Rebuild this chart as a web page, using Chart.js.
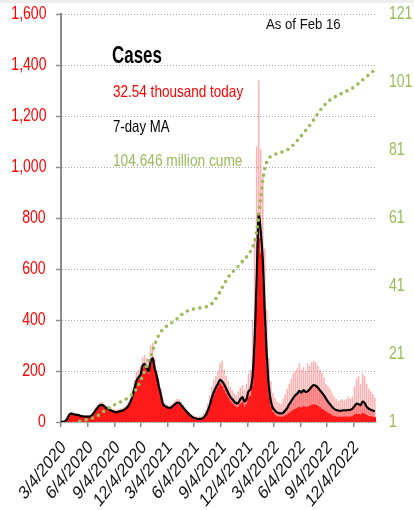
<!DOCTYPE html>
<html>
<head>
<meta charset="utf-8">
<script src="https://cdn.jsdelivr.net/npm/chart.js@4.4.1/dist/chart.umd.min.js"></script>
<style>
  html, body { margin: 0; padding: 0; background: #fff; }
  #wrap { position: relative; width: 414px; height: 510px; overflow: hidden; }
  #topbar { position: absolute; left: 0; top: 0; width: 414px; height: 3px; background: #eeeeee; }
  .t { position: absolute; white-space: nowrap; line-height: 1;
       font-family: "Liberation Sans", Arial, sans-serif; transform-origin: 0 50%; }
</style>
</head>
<body>
<div id="wrap">
  <canvas id="chart" width="414" height="510"></canvas>
  <div id="topbar"></div>
  <div id="ticks"></div>
  <div class="t" style="left:266px;top:16.3px;font-size:15.5px;color:#111;transform:scaleX(0.85)">As of Feb 16</div>
  <div class="t" style="left:112px;top:44px;font-size:23.5px;font-weight:bold;color:#000;transform:scaleX(0.72)">Cases</div>
  <div class="t" style="left:112.5px;top:82.7px;font-size:16.5px;color:#ff0000;transform:scaleX(0.82)">32.54 thousand today</div>
  <div class="t" style="left:112.5px;top:117.7px;font-size:16.5px;color:#000;transform:scaleX(0.8)">7-day MA</div>
  <div class="t" style="left:112.5px;top:151.7px;font-size:16.5px;color:#9bbb59;transform:scaleX(0.83)">104.646 million cume</div>
</div>
<script>
// weekly samples starting 3/4/2020, values in thousands of cases per day
const ma7 = [
  0.1, 0.6, 3, 12, 28, 33, 31, 29, 28, 26,
  23, 22, 21, 21, 21, 25, 35, 46, 57, 65,
  67, 63, 56, 52, 47, 43, 41, 38, 40, 43,
  44, 48, 54, 63, 78, 98, 130, 160, 175, 185,
  220, 228, 212, 200, 238, 250, 210, 180, 140, 108,
  70, 62, 58, 55, 57, 63, 70, 76, 75, 66,
  56, 47, 37, 29, 22, 17, 15, 12, 12, 13,
  17, 27, 44, 66, 95, 118, 135, 150, 165, 160,
  148, 132, 115, 100, 90, 80, 74, 75, 90, 98,
  80, 90, 120, 128, 180, 320, 560, 815, 750, 640,
  430, 260, 140, 82, 55, 45, 38, 35, 34, 36,
  45, 55, 70, 82, 95, 105, 112, 122, 115, 125,
  118, 120, 128, 138, 145, 142, 135, 125, 115, 105,
  92, 80, 70, 60, 52, 47, 45, 44, 45, 46,
  46, 47, 48, 52, 62, 72, 70, 66, 80, 75,
  60, 52, 48, 45, 42
]

// highest reported day in each week (thousands)
const dailyHigh = [
  0.2, 1, 5, 19, 34, 38, 36, 34, 33, 31,
  28, 27, 26, 26, 27, 33, 45, 58, 68, 77,
  79, 74, 66, 62, 57, 52, 50, 47, 51, 53,
  54, 60, 66, 78, 95, 128, 165, 195, 205, 220,
  255, 262, 250, 240, 300, 310, 250, 205, 165, 128,
  88, 76, 70, 66, 68, 76, 84, 90, 90, 80,
  68, 58, 46, 38, 30, 26, 22, 20, 22, 25,
  34, 48, 72, 105, 138, 165, 180, 200, 230, 240,
  205, 180, 160, 138, 125, 112, 106, 120, 135, 145,
  125, 150, 190, 205, 400, 720, 1080, 1340, 1070, 960,
  680, 440, 250, 160, 115, 95, 80, 75, 72, 90,
  110, 130, 150, 170, 190, 200, 210, 230, 205, 215,
  200, 230, 220, 235, 240, 235, 220, 205, 195, 175,
  150, 140, 130, 115, 100, 90, 82, 85, 90, 85,
  90, 100, 92, 100, 140, 170, 180, 150, 190, 180,
  150, 130, 120, 110, 95
]

// typical (lower) reported day in each week (thousands)
const dailyLow = [
  0, 0.5, 2.5, 10, 26, 31, 29, 27, 26, 24,
  21, 20, 19, 19, 19, 23, 33, 43, 54, 62,
  64, 60, 53, 49, 44, 40, 38, 35, 37, 40,
  41, 45, 51, 60, 74, 92, 124, 152, 166, 175,
  208, 216, 200, 188, 225, 238, 198, 170, 132, 102,
  66, 58, 54, 51, 53, 58, 65, 70, 70, 62,
  52, 44, 34, 26, 20, 15, 13, 10, 10, 10,
  14, 22, 38, 58, 85, 105, 122, 135, 150, 140,
  125, 110, 95, 82, 72, 64, 58, 58, 68, 75,
  58, 68, 95, 102, 140, 270, 480, 720, 660, 540,
  350, 205, 105, 60, 38, 28, 22, 20, 19, 20,
  24, 28, 34, 40, 45, 50, 53, 58, 55, 60,
  57, 59, 62, 66, 68, 66, 62, 56, 50, 45,
  40, 34, 30, 25, 22, 20, 19, 19, 19, 20,
  20, 20, 20, 22, 27, 31, 30, 28, 33, 31,
  26, 22, 21, 20, 18
]

// cumulative cases, millions
const cume = [
  0, 0, 0.005, 0.03, 0.11, 0.31, 0.54, 0.76, 0.96, 1.16,
  1.34, 1.5, 1.65, 1.8, 1.95, 2.1, 2.27, 2.52, 2.84, 3.24,
  3.7, 4.17, 4.61, 5.0, 5.36, 5.69, 5.99, 6.28, 6.55, 6.83,
  7.13, 7.44, 7.78, 8.16, 8.6, 9.14, 9.83, 10.74, 11.86, 13.09,
  14.38, 15.92, 17.52, 19.0, 20.4, 22.07, 23.82, 25.29, 26.55, 27.53,
  28.28, 28.8, 29.25, 29.65, 30.05, 30.45, 30.9, 31.4, 31.92, 32.44,
  32.9, 33.29, 33.62, 33.88, 34.08, 34.24, 34.36, 34.46, 34.55, 34.63,
  34.72, 34.84, 35.03, 35.34, 35.8, 36.47, 37.29, 38.24, 39.3, 40.45,
  41.55, 42.6, 43.5, 44.3, 45.0, 45.6, 46.2, 46.8, 47.5, 48.2,
  48.9, 49.5, 50.3, 51.2, 52.3, 54.0, 57.0, 61.5, 67.0, 72.0,
  75.5, 77.5, 78.6, 79.1, 79.4, 79.7, 79.9, 80.1, 80.3, 80.5,
  80.7, 81.0, 81.4, 81.9, 82.5, 83.1, 83.8, 84.5, 85.2, 86.0,
  86.7, 87.4, 88.2, 89.0, 89.9, 90.8, 91.7, 92.5, 93.3, 94.0,
  94.6, 95.2, 95.7, 96.1, 96.5, 96.8, 97.1, 97.4, 97.7, 98.0,
  98.3, 98.6, 98.9, 99.2, 99.6, 100.1, 100.6, 101.0, 101.6, 102.1,
  102.6, 103.1, 103.6, 104.1, 104.6
]

const tickLabels = ["3/4/2020", "6/4/2020", "9/4/2020", "12/4/2020", "3/4/2021", "6/4/2021",
  "9/4/2021", "12/4/2021", "3/4/2022", "6/4/2022", "9/4/2022", "12/4/2022"]
const caseTicks = [0, 200, 400, 600, 800, 1000, 1200, 1400, 1600]
const cumeTicks = [1, 21, 41, 61, 81, 101, 121]

// days since 3/4/2020
const dayOf = (s) => {
  const [m, d, y] = s.split("/").map(Number)
  return (Date.UTC(y, m - 1, d) - Date.UTC(2020, 2, 4)) / 864e5
}
const pts = (arr) => arr.map((v, i) => ({ x: i * 7, y: v }))

const gray = "#8c8c8c"

// tick labels as html text, placed with the chart's own scales
const htmlTicks = {
  id: "htmlTicks",
  afterDraw(chart) {
    const layer = document.getElementById("ticks")
    layer.innerHTML = ""
    const add = (txt, css) => {
      const d = document.createElement("div")
      d.className = "t"
      d.textContent = txt
      Object.assign(d.style, css)
      layer.appendChild(d)
    }
    const { x, y, y2 } = chart.scales
    caseTicks.forEach((v) => {
      add(v.toLocaleString("en-US"), {
        right: (414 - 46) + "px", top: (y.getPixelForValue(v) - 8.9) + "px",
        fontSize: "17.8px", color: "#ff0000", transformOrigin: "100% 50%", transform: "scaleX(0.79)",
      })
    })
    cumeTicks.forEach((v) => {
      add(String(v), {
        left: "389px", top: (y2.getPixelForValue(v) - 8.9) + "px",
        fontSize: "17.8px", color: "#9bbb59", transform: "scaleX(0.79)",
      })
    })
    tickLabels.forEach((l) => {
      const px = x.getPixelForValue(dayOf(l))
      add(l, {
        right: (414 - px - 2) + "px", top: (443 - 9.5) + "px",
        fontSize: "19px", color: "#111", transformOrigin: "100% 50%",
        transform: "scaleX(0.8) rotate(-45deg)",
      })
    })
  },
}

new Chart(document.getElementById("chart"), {
  type: "bar",
  data: {
    datasets: [
      {
        type: "line",
        label: "Cumulative",
        data: pts(cume),
        yAxisID: "y2",
        borderColor: "#9bbb59",
        borderWidth: 3.6,
        borderDash: [0, 6.5],
        borderCapStyle: "round",
        pointRadius: 0,
        tension: 0.3,
        order: 1,
      },
      {
        type: "line",
        label: "7-day MA",
        data: pts(ma7),
        yAxisID: "y",
        borderColor: "#000",
        borderWidth: 2.2,
        pointRadius: 0,
        tension: 0.25,
        fill: "origin",
        backgroundColor: "rgba(255, 40, 40, 0.4)",
        order: 2,
      },
      {
        label: "Daily",
        data: pts(dailyLow),
        yAxisID: "y",
        backgroundColor: "#ff1010",
        barPercentage: 1,
        categoryPercentage: 1,
        grouped: false,
        order: 3,
      },
      {
        label: "Daily high",
        data: pts(dailyHigh),
        yAxisID: "y",
        backgroundColor: "rgba(255, 60, 60, 0.4)",
        barPercentage: 0.75,
        categoryPercentage: 1,
        grouped: false,
        order: 4,
      },
    ],
  },
  options: {
    responsive: false,
    animation: false,
    layout: { padding: { top: 14, right: 0, bottom: 0, left: 0 } },
    plugins: { legend: { display: false }, tooltip: { enabled: false } },
    scales: {
      x: {
        type: "linear",
        min: 0,
        max: 1082,
        offset: false,
        afterBuildTicks: (s) => { s.ticks = tickLabels.map((l) => ({ value: dayOf(l) })) },
        ticks: { display: false, autoSkip: false },
        grid: { offset: false, drawOnChartArea: false, drawTicks: true, tickLength: 5, color: gray, lineWidth: 1.5 },
        border: { color: gray, width: 1.5 },
        afterFit: (s) => { s.height = 88 },
      },
      y: {
        position: "left",
        min: 0,
        max: 1600,
        afterBuildTicks: (s) => { s.ticks = caseTicks.map((v) => ({ value: v })) },
        ticks: { display: false },
        grid: { color: "#a8a8a8", lineWidth: 1, drawTicks: true, tickLength: 5, tickColor: gray, tickWidth: 1.5, tickBorderDash: [] },
        border: { color: gray, width: 2, dash: [1, 2] },
        afterFit: (s) => { s.width = 61 },
      },
      y2: {
        position: "right",
        min: 1,
        max: 121,
        afterBuildTicks: (s) => { s.ticks = cumeTicks.map((v) => ({ value: v })) },
        ticks: { display: false },
        grid: { display: false, drawTicks: false },
        border: { display: false },
        afterFit: (s) => { s.width = 38 },
      },
    },
  },
  plugins: [htmlTicks],
})
</script>
</body>
</html>
